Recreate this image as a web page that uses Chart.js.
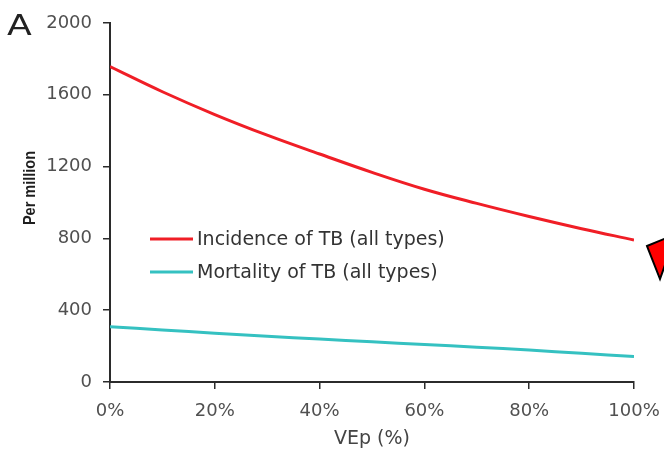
<!DOCTYPE html>
<html>
<head>
<meta charset="utf-8">
<script src="https://cdn.jsdelivr.net/npm/chart.js@4/dist/chart.umd.min.js"></script>
<style>
  html, body { margin: 0; padding: 0; background: #fff; }
  #wrap { width: 664px; height: 449px; }
</style>
</head>
<body>
<div id="wrap"><canvas id="c" width="664" height="449"></canvas></div>
<script>
// Vaccine efficacy against progression (VEp, %)
const vep = [0, 10, 20, 30, 40, 50, 60, 70, 80, 90, 100];
// TB incidence per million, all types
const incidence = [1757, 1617, 1490, 1375, 1270, 1168, 1074, 995, 922, 854, 791];
// TB mortality per million, all types
const mortality = [308, 290, 272, 255, 239, 224, 209, 194, 178, 160, 142];

const seriesNames = ['Incidence of TB (all types)', 'Mortality of TB (all types)'];
const yTicks = [0, 400, 800, 1200, 1600, 2000];
const xTicks = [0, 20, 40, 60, 80, 100];

const RED = '#f01e26';
const TEAL = '#35c1c1';
const AXIS = '#2b2b2b';
const FONT = "'DejaVu Sans', sans-serif";

const toPoints = ys => vep.map((x, i) => ({ x: x, y: ys[i] }));

// Panel letter, axis title, inline legend and the arrowhead at the right edge
const extras = {
  id: 'extras',
  afterDraw(chart) {
    const ctx = chart.ctx;
    const a = chart.chartArea;
    ctx.save();

    // panel letter
    ctx.fillStyle = '#222';
    ctx.font = '29px ' + FONT;
    ctx.textBaseline = 'alphabetic';
    ctx.textAlign = 'left';
    ctx.save();
    ctx.translate(7, 35);
    ctx.scale(1.25, 1);
    ctx.fillText('A', 0, 0);
    ctx.restore();

    // y axis title
    ctx.save();
    ctx.translate(30, 188);
    ctx.rotate(-Math.PI / 2);
    ctx.font = "bold 14.5px 'Liberation Sans', Arial, sans-serif";
    ctx.fillStyle = '#1e1e1e';
    ctx.textAlign = 'center';
    ctx.textBaseline = 'middle';
    ctx.scale(1, 1.2);
    ctx.fillText('Per million', 0, 0);
    ctx.restore();

    // legend inside the plot
    const lx0 = a.left + 40, lx1 = a.left + 83, tx = a.left + 87;
    const rows = [a.top + 216, a.top + 249];
    chart.data.datasets.forEach((ds, i) => {
      ctx.strokeStyle = ds.borderColor;
      ctx.lineWidth = 3;
      ctx.beginPath();
      ctx.moveTo(lx0, rows[i]);
      ctx.lineTo(lx1, rows[i]);
      ctx.stroke();
      ctx.fillStyle = '#333';
      ctx.font = '19px ' + FONT;
      ctx.textAlign = 'left';
      ctx.textBaseline = 'middle';
      ctx.fillText(ds.label, tx, rows[i] + 1);
    });

    // arrowhead cut by the right edge
    const r = a.right;
    ctx.beginPath();
    ctx.moveTo(r + 13, a.top + 223);
    ctx.lineTo(r + 42, a.top + 211);
    ctx.lineTo(r + 26, a.top + 256);
    ctx.closePath();
    ctx.fillStyle = '#ff0000';
    ctx.fill();
    ctx.strokeStyle = '#000';
    ctx.lineWidth = 2;
    ctx.stroke();

    ctx.restore();
  }
};

new Chart(document.getElementById('c'), {
  type: 'line',
  data: {
    datasets: [
      { label: seriesNames[0], data: toPoints(incidence), borderColor: RED, borderWidth: 3, pointRadius: 0, tension: 0.4, fill: false },
      { label: seriesNames[1], data: toPoints(mortality), borderColor: TEAL, borderWidth: 3, pointRadius: 0, tension: 0.4, fill: false }
    ]
  },
  options: {
    responsive: false,
    animation: false,
    events: [],
    layout: { padding: { top: 23, right: 30, left: 0, bottom: 0 } },
    plugins: { legend: { display: false }, tooltip: { enabled: false } },
    scales: {
      x: {
        type: 'linear',
        min: 0, max: 100,
        afterFit(s) { s.height = 67; s.paddingRight = 0; s.paddingLeft = 0; },
        afterBuildTicks(s) { s.ticks = xTicks.map(v => ({ value: v })); },
        ticks: {
          callback: v => v + '%',
          font: { family: FONT, size: 18 },
          color: '#505050',
          padding: 12,
          maxRotation: 0
        },
        grid: { drawOnChartArea: false, drawTicks: true, tickLength: 7, color: AXIS, lineWidth: 1.5 },
        border: { color: AXIS, width: 2 },
        title: { display: true, text: 'VEp (%)', font: { family: FONT, size: 19 }, color: '#444', padding: { top: 0, bottom: -1 } }
      },
      y: {
        min: 0, max: 2000,
        afterFit(s) { s.width = 110; s.paddingTop = 0; s.paddingBottom = 0; },
        afterBuildTicks(s) { s.ticks = yTicks.map(v => ({ value: v })); },
        ticks: {
          callback: v => String(v),
          font: { family: FONT, size: 18 },
          color: '#505050',
          padding: 11
        },
        grid: { drawOnChartArea: false, drawTicks: true, tickLength: 7, color: AXIS, lineWidth: 1.5 },
        border: { color: AXIS, width: 2 }
      }
    }
  },
  plugins: [extras]
});
</script>
</body>
</html>
